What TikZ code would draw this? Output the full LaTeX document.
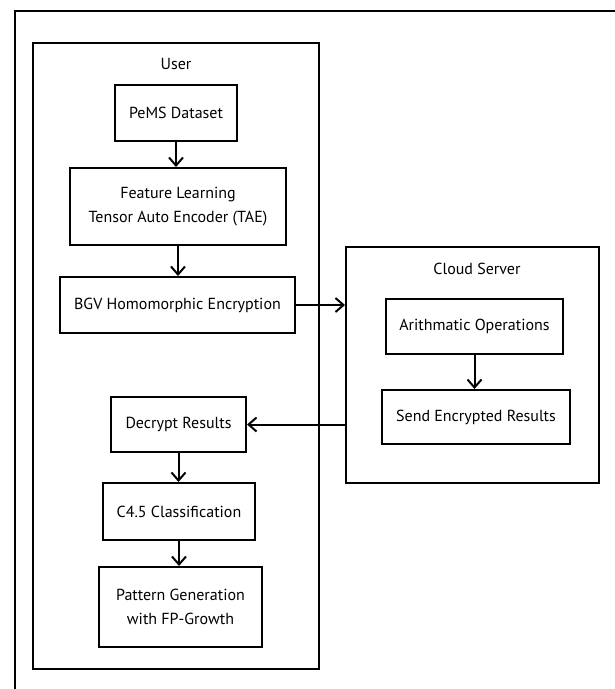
\documentclass[tikz,border=0pt]{standalone}
\usepackage{fontspec}
\setmainfont{PT Sans}
\usetikzlibrary{arrows.meta}

\begin{document}
\begin{tikzpicture}[x=1pt,y=-1pt,
  every node/.style={font=\fontsize{16}{23.5}\selectfont},
  box/.style={draw,line width=2pt,align=center,inner sep=0pt},
  group/.style={draw,line width=2pt,inner sep=0pt},
  arr/.style={line width=2pt,-{Straight Barb[length=8pt,width=14pt,line width=2pt]}}]
\useasboundingbox (0,0) rectangle (615,689);
\draw[line width=2pt] (615,11) -- (15,11) -- (15,689);
% user side
\node[group,minimum width=286pt,minimum height=626pt] (user) at (176,356) {};
\node (userlbl) at (176,64) {User};
\node[box,minimum width=122pt,minimum height=56pt] (pems) at (176,113) {PeMS Dataset};
\node[box,minimum width=216pt,minimum height=77pt] (tae) at (178,206.5) {Feature Learning\\Tensor Auto Encoder (TAE)};
\node[box,minimum width=235pt,minimum height=56pt] (bgv) at (177.5,305) {BGV Homomorphic Encryption};
\node[box,minimum width=135pt,minimum height=55pt] (decrypt) at (178.5,424.5) {Decrypt Results};
\node[box,minimum width=152pt,minimum height=57pt] (cfour) at (179,511.5) {C4.5 Classification};
\node[box,minimum width=163pt,minimum height=80pt] (pattern) at (180.5,607) {Pattern Generation\\with FP-Growth};
% cloud side
\node[group,minimum width=253pt,minimum height=236pt] (cloud) at (472.5,365) {};
\node (cloudlbl) at (477,269) {Cloud Server};
\node[box,minimum width=177pt,minimum height=55pt] (arith) at (474.5,326.5) {Arithmatic Operations};
\node[box,minimum width=188pt,minimum height=54pt] (send) at (476,417) {Send Encrypted Results};
% flow
\draw[arr] (pems.south) -- (pems.south |- tae.north);
\draw[arr] (tae.south) -- (tae.south |- bgv.north);
\draw[arr] (bgv.east) -- (bgv.east -| cloud.west);
\draw[arr] (arith.south) -- (arith.south |- send.north);
\draw[arr] (decrypt.east -| cloud.west) -- (decrypt.east);
\draw[arr] (decrypt.south) -- (decrypt.south |- cfour.north);
\draw[arr] (cfour.south) -- (cfour.south |- pattern.north);
\end{tikzpicture}
\end{document}
